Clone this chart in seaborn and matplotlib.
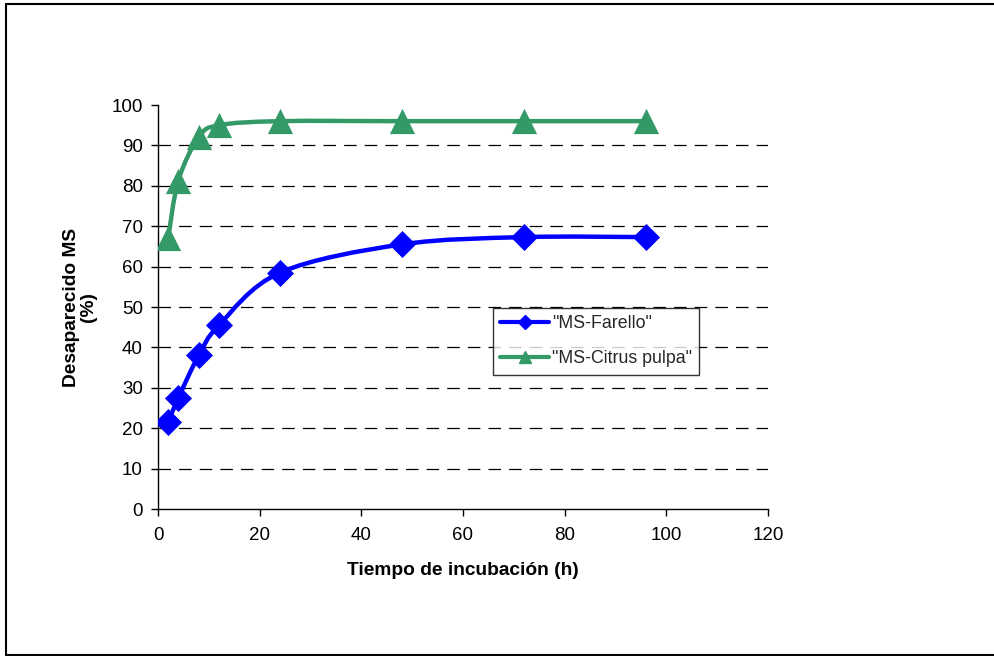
import numpy as np
import pandas as pd
import seaborn as sns
import matplotlib
matplotlib.use("Agg")
import matplotlib.pyplot as plt
from matplotlib.path import Path
from matplotlib.patches import PathPatch
from matplotlib.lines import Line2D

# ---- data ----
hours = [2, 4, 8, 12, 24, 48, 72, 96]
farello = [21.5, 27.5, 38.0, 45.5, 58.5, 65.5, 67.3, 67.3]
citrus = [67.0, 81.3, 92.0, 95.0, 96.0, 96.0, 96.0, 96.0]
series_names = ['"MS-Farello"', '"MS-Citrus pulpa"']
x_ticks = [0, 20, 40, 60, 80, 100, 120]
y_ticks = [0, 10, 20, 30, 40, 50, 60, 70, 80, 90, 100]
x_label = "Tiempo de incubación (h)"
y_label = "Desaparecido MS\n(%)"

blue = "#0000FF"
green = "#339966"

sns.set_theme(style="white")
plt.rcParams['font.family'] = ['Liberation Sans', 'DejaVu Sans']

fig = plt.figure(figsize=(9.95, 6.56), dpi=100)
W, H = 995, 656
ax = fig.add_axes([158 / W, 1 - 509 / H, (768 - 158) / W, (509 - 105) / H])

# outer border (right edge cut off in the reference)
for xs, ys in [([6 / W, 6 / W], [1 - 4 / H, 1 - 655 / H]),
               ([6 / W, 1.0], [1 - 4 / H, 1 - 4 / H]),
               ([6 / W, 1.0], [1 - 655 / H, 1 - 655 / H])]:
    fig.add_artist(Line2D(xs, ys, transform=fig.transFigure, color="black", lw=1.5))


def smooth_path(xv, yv):
    """Excel-style smoothed line: cubic Bezier through the data points."""
    pts = np.column_stack([xv, yv]).astype(float)
    n = len(pts)
    verts = [pts[0]]
    codes = [Path.MOVETO]
    for i in range(n - 1):
        p0 = pts[i - 1] if i > 0 else pts[i]
        p1 = pts[i]
        p2 = pts[i + 1]
        p3 = pts[i + 2] if i + 2 < n else pts[i + 1]
        c1 = p1 + (p2 - p0) / 6.0
        c2 = p2 - (p3 - p1) / 6.0
        verts += [c1, c2, p2]
        codes += [Path.CURVE4] * 3
    return Path(verts, codes)


# gridlines
for yv in y_ticks[1:-1]:
    ax.axhline(yv, color="black", lw=0.9, ls=(0, (10, 6.5)), zorder=1)

df = pd.DataFrame({
    "h": hours * 2,
    "v": farello + citrus,
    "s": [series_names[0]] * len(hours) + [series_names[1]] * len(hours),
})

for vals, col in [(farello, blue), (citrus, green)]:
    ax.add_patch(PathPatch(smooth_path(hours, vals), fill=False, ec=col, lw=3.2,
                           capstyle="round", joinstyle="round", zorder=3))

sns.scatterplot(data=df[df.s == series_names[0]], x="h", y="v", marker="D", s=190,
                color=blue, edgecolor=blue, linewidth=0, ax=ax, zorder=4, legend=False)
sns.scatterplot(data=df[df.s == series_names[1]], x="h", y="v", marker="^", s=330,
                color=green, edgecolor=green, linewidth=0, ax=ax, zorder=4, legend=False)

ax.set_xlim(0, 120)
ax.set_ylim(0, 100)
ax.set_xticks(x_ticks)
ax.set_yticks(y_ticks)
ax.tick_params(axis="both", which="both", direction="out", length=5, width=1,
               color="black", labelsize=13.5, labelcolor="black",
               left=True, bottom=True)
ax.tick_params(axis="x", pad=8)
ax.tick_params(axis="y", pad=6)
for side in ["top", "right"]:
    ax.spines[side].set_visible(False)
for side in ["left", "bottom"]:
    ax.spines[side].set_color("black")
    ax.spines[side].set_linewidth(1)

ax.set_xlabel(x_label, fontsize=13.8, fontweight="bold", labelpad=13, color="black")
ax.set_ylabel(y_label, fontsize=13.8, fontweight="bold", labelpad=10, color="black",
              multialignment="center", linespacing=1.0)

handles = [Line2D([], [], color=blue, lw=3, marker="D", ms=7),
           Line2D([], [], color=green, lw=3, marker="^", ms=8)]
leg = ax.legend(handles, series_names, loc="upper left",
                bbox_to_anchor=((493 - 158) / 610, (509 - 308) / 404),
                fontsize=12.8, frameon=True, fancybox=False, handlelength=2.75,
                handletextpad=0.15, borderpad=0.42, labelspacing=1.0,
                borderaxespad=0)
leg.get_frame().set_edgecolor("black")
leg.get_frame().set_linewidth(1)
leg.set_zorder(5)

fig.savefig("out.png", dpi=100)
